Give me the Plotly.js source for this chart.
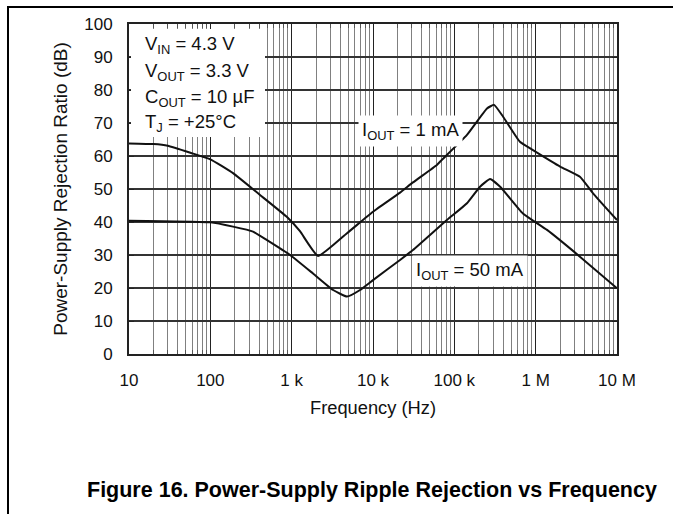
<!DOCTYPE html>
<html>
<head>
<meta charset="utf-8">
<script src="https://cdn.plot.ly/plotly-3.0.1.min.js"></script>
<style>html,body{margin:0;padding:0;background:#fff;}#chart{width:673px;height:514px;}</style>
</head>
<body>
<div id="chart"></div>
<script>
// Frequency (Hz) and PSRR (dB)
var freq1mA = [10, 20, 30, 60, 100, 190, 408, 877, 1265, 2110, 4790, 10000, 21500, 31000, 61000, 70000, 143000, 252000, 308000, 398000, 640000, 927000, 2000000, 3500000, 5070000, 10000000];
var psrr1mA = [63.8, 63.6, 63.1, 60.8, 59.0, 54.8, 48.2, 41.5, 37.2, 29.7, 36.6, 43.1, 48.9, 52.0, 57.3, 58.8, 66.4, 74.4, 75.5, 71.9, 64.3, 61.8, 56.8, 53.7, 48.7, 40.6];
var freq50mA = [10, 100, 190, 335, 498, 955, 1830, 3230, 4790, 6930, 10000, 21500, 31000, 81000, 143000, 207000, 275000, 366000, 697000, 1380000, 3500000, 10000000];
var psrr50mA = [40.4, 39.9, 38.6, 37.1, 34.5, 30.0, 24.4, 19.4, 17.4, 19.4, 22.4, 28.5, 31.5, 40.6, 45.7, 50.7, 53.0, 50.7, 42.6, 37.6, 29.5, 19.9];

var xTickVals = [10, 100, 1000, 10000, 100000, 1000000, 10000000];
var xTickText = ['10', '100', '1 k', '10 k', '100 k', '1 M', '10 M'];
var yTickVals = [0, 10, 20, 30, 40, 50, 60, 70, 80, 90, 100];

var conditionLines = ['V<sub>IN</sub> = 4.3 V', 'V<sub>OUT</sub> = 3.3 V', 'C<sub>OUT</sub> = 10 µF', 'T<sub>J</sub> = +25°C'];
var curveLabels = ['I<sub>OUT</sub> = 1 mA', 'I<sub>OUT</sub> = 50 mA'];
var captionText = 'Figure 16. Power-Supply Ripple Rejection vs Frequency';

var FONT = 'Liberation Sans, Arial, Helvetica, sans-serif';
var W = 673, H = 514, L = 129, R = 617, T = 24, B = 354;
function px(x){ return (x - L) / (R - L); }
function py(y){ return (B - y) / (B - T); }

var traces = [
  {x: freq1mA, y: psrr1mA, type: 'scatter', mode: 'lines', line: {color: '#111', width: 2, shape: 'spline', smoothing: 0.4}, hoverinfo: 'skip'},
  {x: freq50mA, y: psrr50mA, type: 'scatter', mode: 'lines', line: {color: '#111', width: 2, shape: 'spline', smoothing: 0.4}, hoverinfo: 'skip'}
];

var ANN = 18.5;
var annotations = [];
var condY = [45, 72, 98, 123];
conditionLines.forEach(function(t, i){
  annotations.push({xref: 'paper', yref: 'paper', x: px(143), y: py(condY[i]), xanchor: 'left', yanchor: 'middle',
    text: t, showarrow: false, font: {family: FONT, size: ANN, color: '#111'}});
});
annotations.push({xref: 'paper', yref: 'paper', x: px(358), y: py(131), xanchor: 'left', yanchor: 'middle',
  text: curveLabels[0], showarrow: false, font: {family: FONT, size: ANN, color: '#111'}, bgcolor: '#fff', borderpad: 3});
annotations.push({xref: 'paper', yref: 'paper', x: px(412), y: py(271), xanchor: 'left', yanchor: 'middle',
  text: curveLabels[1], showarrow: false, font: {family: FONT, size: ANN, color: '#111'}, bgcolor: '#fff', borderpad: 3});
annotations.push({xref: 'paper', yref: 'paper', x: px(372), y: py(490), xanchor: 'center', yanchor: 'middle',
  text: '<b>' + captionText + '</b>', showarrow: false, font: {family: FONT, size: 21.5, color: '#000'}});

var shapes = [
  {type: 'rect', xref: 'paper', yref: 'paper', x0: px(131), x1: px(265), y0: py(137), y1: py(29), layer: 'above', line: {width: 0}, fillcolor: '#fff'},
  {type: 'line', xref: 'paper', yref: 'paper', x0: px(8), x1: px(W + 5), y0: py(7), y1: py(7), line: {color: '#000', width: 2}},
  {type: 'line', xref: 'paper', yref: 'paper', x0: px(8), x1: px(8), y0: py(6), y1: py(H + 5), line: {color: '#000', width: 2}}
];

var layout = {
  width: W, height: H,
  margin: {l: L, r: W - R, t: T, b: H - B, pad: 0},
  paper_bgcolor: '#fff', plot_bgcolor: '#fff',
  showlegend: false,
  font: {family: FONT, color: '#111'},
  xaxis: {
    type: 'log', range: [1, 7], tickvals: xTickVals, ticktext: xTickText,
    showgrid: true, gridcolor: '#222', gridwidth: 1,
    minor: {dtick: 'D1', showgrid: true, gridcolor: '#808080', gridwidth: 1, ticks: 'inside', ticklen: 4, tickcolor: '#555'},
    showline: true, linecolor: '#222', linewidth: 2, mirror: 'ticks',
    ticks: 'inside', ticklen: 5, tickcolor: '#222', ticklabelstandoff: 10, zeroline: false,
    tickfont: {family: FONT, size: 17, color: '#111'},
    title: {text: 'Frequency (Hz)', font: {family: FONT, size: 18.3, color: '#111'}, standoff: 12}
  },
  yaxis: {
    range: [0, 100], tickvals: yTickVals,
    showgrid: true, gridcolor: '#333', gridwidth: 1.3,
    showline: true, linecolor: '#222', linewidth: 2, mirror: 'ticks',
    ticks: 'inside', ticklen: 5, tickcolor: '#222', ticklabelstandoff: 11, zeroline: false,
    tickfont: {family: FONT, size: 17, color: '#111'},
    title: {text: 'Power-Supply Rejection Ratio (dB)', font: {family: FONT, size: 19, color: '#111'}, standoff: 12}
  },
  annotations: annotations,
  shapes: shapes
};

Plotly.newPlot('chart', traces, layout, {staticPlot: true, displayModeBar: false});
</script>
</body>
</html>
